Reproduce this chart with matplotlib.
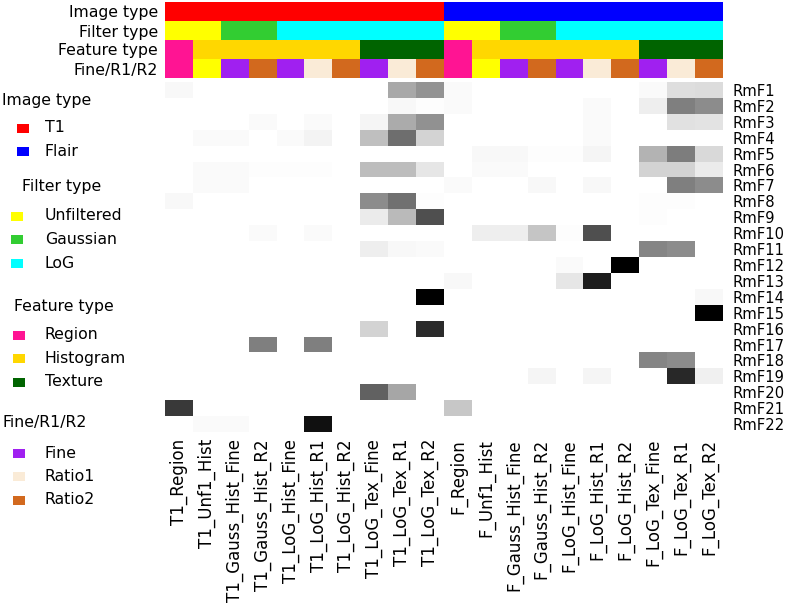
import numpy as np
import matplotlib
matplotlib.use("Agg")
import matplotlib.pyplot as plt
import matplotlib.colors as mcolors
from matplotlib.patches import Rectangle

# ---- data ----
col_labels = ["T1_Region", "T1_Unf1_Hist", "T1_Gauss_Hist_Fine", "T1_Gauss_Hist_R2",
              "T1_LoG_Hist_Fine", "T1_LoG_Hist_R1", "T1_LoG_Hist_R2",
              "T1_LoG_Tex_Fine", "T1_LoG_Tex_R1", "T1_LoG_Tex_R2",
              "F_Region", "F_Unf1_Hist", "F_Gauss_Hist_Fine", "F_Gauss_Hist_R2",
              "F_LoG_Hist_Fine", "F_LoG_Hist_R1", "F_LoG_Hist_R2",
              "F_LoG_Tex_Fine", "F_LoG_Tex_R1", "F_LoG_Tex_R2"]
row_labels = ["RmF%d" % i for i in range(1, 23)]

image_type = ["T1"] * 10 + ["Flair"] * 10
filter_type = (["Unfiltered"] * 2 + ["Gaussian"] * 2 + ["LoG"] * 6) * 2
feature_type = (["Region"] + ["Histogram"] * 6 + ["Texture"] * 3) * 2
fine_r1_r2 = (["Region", "Unfiltered", "Fine", "Ratio2", "Fine", "Ratio1", "Ratio2",
               "Fine", "Ratio1", "Ratio2"]) * 2

# darkness of each cell (0 = white, 1 = black), rows RmF1..RmF22
values = [
    [.03, 0, 0, 0, 0, 0, 0, 0, .34, .42, .02, 0, 0, 0, 0, 0, 0, .02, .13, .14],
    [0, 0, 0, 0, 0, 0, 0, 0, .03, .01, .02, 0, 0, 0, 0, .02, 0, .07, .50, .45],
    [0, 0, 0, .02, 0, .02, 0, .04, .33, .43, 0, 0, 0, 0, 0, .02, 0, 0, .12, .11],
    [0, .02, .02, 0, .02, .05, 0, .25, .57, .17, 0, 0, 0, 0, 0, .02, 0, 0, 0, 0],
    [0, 0, 0, 0, 0, 0, 0, 0, 0, 0, 0, .03, .03, .01, .01, .04, 0, .30, .51, .15],
    [0, .02, .02, .01, .01, .01, 0, .26, .26, .10, 0, .02, .02, 0, 0, 0, 0, .17, .17, .08],
    [0, .02, .02, 0, 0, 0, 0, 0, 0, 0, .02, 0, 0, .03, 0, .03, 0, 0, .50, .45],
    [.03, 0, 0, 0, 0, 0, 0, .45, .56, .01, 0, 0, 0, 0, 0, 0, 0, .01, .01, 0],
    [0, 0, 0, 0, 0, 0, 0, .08, .27, .69, 0, 0, 0, 0, 0, 0, 0, .01, 0, 0],
    [0, 0, 0, .02, 0, .02, 0, 0, 0, 0, 0, .07, .07, .23, .01, .69, 0, 0, 0, 0],
    [0, 0, 0, 0, 0, 0, 0, .07, .03, .02, 0, 0, 0, 0, 0, 0, 0, .48, .45, 0],
    [0, 0, 0, 0, 0, 0, 0, 0, 0, 0, 0, 0, 0, 0, .02, 0, 1.0, 0, 0, 0],
    [0, 0, 0, 0, 0, 0, 0, 0, 0, 0, .03, 0, 0, 0, .10, .89, 0, 0, 0, 0],
    [0, 0, 0, 0, 0, 0, 0, 0, 0, 1.0, 0, 0, 0, 0, 0, 0, 0, 0, 0, .03],
    [0, 0, 0, 0, 0, 0, 0, 0, 0, 0, 0, 0, 0, 0, 0, 0, 0, 0, 0, 1.0],
    [0, 0, 0, 0, 0, 0, 0, .17, 0, .83, 0, 0, 0, 0, 0, 0, 0, 0, 0, 0],
    [0, 0, 0, .50, 0, .50, 0, 0, 0, 0, 0, 0, 0, 0, 0, 0, 0, 0, 0, 0],
    [0, 0, 0, 0, 0, 0, 0, 0, 0, 0, 0, 0, 0, 0, 0, 0, 0, .48, .45, 0],
    [0, 0, 0, 0, 0, 0, 0, 0, 0, 0, 0, 0, 0, .04, 0, .04, 0, 0, .84, .06],
    [0, 0, 0, 0, 0, 0, 0, .62, .35, 0, 0, 0, 0, 0, 0, 0, 0, 0, 0, 0],
    [.77, 0, 0, 0, 0, 0, 0, 0, 0, 0, .22, 0, 0, 0, 0, 0, 0, 0, 0, 0],
    [0, .02, .02, 0, 0, .93, 0, 0, 0, 0, 0, 0, 0, 0, 0, 0, 0, 0, 0, 0],
]

ann_names = ["Image type", "Filter type", "Feature type", "Fine/R1/R2"]
ann_levels = [["T1", "Flair"],
              ["Unfiltered", "Gaussian", "LoG"],
              ["Region", "Histogram", "Texture"],
              ["Fine", "Ratio1", "Ratio2"]]
ann_colors = {"T1": "#FF0000", "Flair": "#0000FF",
              "Unfiltered": "#FFFF00", "Gaussian": "#32CD32", "LoG": "#00FFFF",
              "Region": "#FF1493", "Histogram": "#FFD700", "Texture": "#006400",
              "Fine": "#A020F0", "Ratio1": "#FAEBD7", "Ratio2": "#D2691E"}

W, H = 790, 608
fig = plt.figure(figsize=(W / 100, H / 100), dpi=100)

# ---- heatmap ----
ax = fig.add_axes([165 / W, 1 - 432 / H, 558 / W, 350 / H])
cmap = mcolors.LinearSegmentedColormap.from_list("wb", ["white", "black"])
ax.imshow(np.array(values), cmap=cmap, vmin=0, vmax=1, aspect="auto",
          interpolation="nearest")
for s in ax.spines.values():
    s.set_visible(False)
ax.yaxis.tick_right()
ax.set_yticks(range(len(row_labels)))
ax.set_yticklabels(row_labels, fontsize=10.6)
ax.set_xticks(range(len(col_labels)))
ax.set_xticklabels(col_labels, rotation=90, fontsize=12)
ax.tick_params(length=0)
ax.tick_params(axis="y", pad=7)
ax.tick_params(axis="x", pad=5)

# ---- annotation bars ----
aax = fig.add_axes([165 / W, 1 - 78 / H, 558 / W, 76 / H])
ann_rows = [image_type, filter_type, feature_type, fine_r1_r2]
rgb = np.array([[mcolors.to_rgb(ann_colors[v]) for v in r] for r in ann_rows])
aax.imshow(rgb, aspect="auto", interpolation="nearest")
for s in aax.spines.values():
    s.set_visible(False)
aax.set_xticks([])
aax.set_yticks(range(4))
aax.set_yticklabels(ann_names, fontsize=11.3)
aax.tick_params(length=0, pad=5)

# ---- legend (pixel coordinates) ----
lax = fig.add_axes([0, 0, 1, 1])
lax.set_xlim(0, W)
lax.set_ylim(H, 0)
lax.axis("off")
title_y = [101, 186, 307, 422]
title_x = [2, 22, 14, 2]
first_item = [128, 216, 335, 453]
box_x = [17, 11, 13, 13]
for name, levels, ty, tx, fy, bx in zip(ann_names, ann_levels, title_y, title_x,
                                        first_item, box_x):
    lax.text(tx, ty, name, fontsize=11.3, ha="left", va="center")
    for k, lev in enumerate(levels):
        y = fy + k * 23.5
        lax.add_patch(Rectangle((bx, y - 4.5), 12, 9, color=ann_colors[lev], lw=0))
        lax.text(45, y, lev, fontsize=11.3, ha="left", va="center")

fig.savefig("out.png", dpi=100)
